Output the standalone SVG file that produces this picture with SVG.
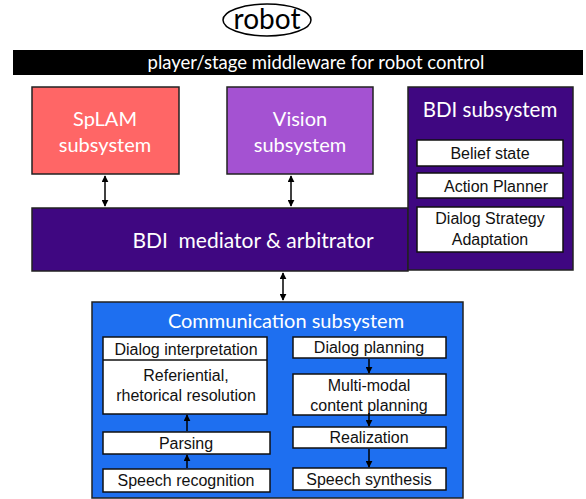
<svg xmlns="http://www.w3.org/2000/svg" width="586" height="499" viewBox="0 0 586 499">
  <style>
    .title { font-family: Lato, "Open Sans", "DejaVu Sans", sans-serif; fill: #ffffff; text-anchor: middle; }
    .box { fill: #ffffff; stroke: #111111; stroke-width: 1.5; }
    .lbl { font-family: "Liberation Sans", Arial, sans-serif; font-size: 16px; fill: #111111; text-anchor: middle; }
    .edge { stroke: #000000; stroke-width: 1.5; fill: none; }
  </style>
  <defs>
    <marker id="head" viewBox="0 0 10 10" refX="9" refY="5" markerWidth="7" markerHeight="7" orient="auto-start-reverse" markerUnits="userSpaceOnUse">
      <path d="M0,0 L10,5 L0,10 z" fill="#000000"/>
    </marker>
  </defs>

  <!-- robot -->
  <g id="robot">
    <ellipse cx="267" cy="20" rx="44" ry="16" fill="#ffffff" stroke="#000000" stroke-width="1.5"/>
    <text x="267" y="29" font-family="Lato, 'Open Sans', sans-serif" font-size="28" fill="#000000" text-anchor="middle">robot</text>
  </g>

  <!-- middleware bar -->
  <g id="middleware">
    <rect x="13" y="50" width="570" height="25" fill="#000000"/>
    <text class="title" x="316" y="69" font-size="18.5">player/stage middleware for robot control</text>
  </g>

  <!-- SpLAM -->
  <g id="splam">
    <rect x="32" y="87" width="147" height="87" fill="#ff6666" stroke="#222222" stroke-width="1.5"/>
    <text class="title" x="105" y="126" font-size="20">SpLAM</text>
    <text class="title" x="105" y="152" font-size="20">subsystem</text>
  </g>

  <!-- Vision -->
  <g id="vision">
    <rect x="227" y="87" width="146" height="87" fill="#a452d2" stroke="#222222" stroke-width="1.5"/>
    <text class="title" x="300" y="126" font-size="20">Vision</text>
    <text class="title" x="300" y="152" font-size="20">subsystem</text>
  </g>

  <!-- BDI mediator -->
  <g id="mediator">
    <rect x="32" y="208" width="376" height="63" fill="#3f0781" stroke="#222222" stroke-width="1.5"/>
    <text class="title" x="253" y="248" font-size="21" xml:space="preserve">BDI  mediator &amp; arbitrator</text>
  </g>

  <!-- BDI subsystem -->
  <g id="bdi">
    <rect x="408" y="87" width="165" height="183" fill="#3f0781" stroke="#222222" stroke-width="1.5"/>
    <text class="title" x="490" y="117" font-size="20.5">BDI subsystem</text>
    <rect class="box" x="417" y="140" width="146" height="26"/>
    <text class="lbl" x="490" y="159">Belief state</text>
    <rect class="box" x="417" y="173" width="146" height="25"/>
    <text class="lbl" x="496" y="192">Action Planner</text>
    <rect class="box" x="417" y="207" width="146" height="45"/>
    <text class="lbl" x="490" y="224">Dialog Strategy</text>
    <text class="lbl" x="490" y="245">Adaptation</text>
  </g>

  <!-- Communication subsystem -->
  <g id="communication">
    <rect x="92" y="302" width="371" height="196" fill="#1e6ff0" stroke="#222222" stroke-width="1.5"/>
    <text class="title" x="286" y="328" font-size="20">Communication subsystem</text>

    <g id="interpretation">
      <rect class="box" x="103" y="337" width="164" height="77"/>
      <line x1="103" y1="360" x2="267" y2="360" stroke="#111111" stroke-width="1.5"/>
      <text class="lbl" x="186" y="355">Dialog interpretation</text>
      <text class="lbl" x="186" y="381">Referiential,</text>
      <text class="lbl" x="186" y="401">rhetorical resolution</text>
    </g>
    <g id="parsing">
      <rect class="box" x="103" y="432" width="167" height="22"/>
      <text class="lbl" x="186" y="449">Parsing</text>
    </g>
    <g id="recognition">
      <rect class="box" x="103" y="469" width="167" height="23"/>
      <text class="lbl" x="186" y="486">Speech recognition</text>
    </g>
    <g id="planning">
      <rect class="box" x="293" y="337" width="153" height="21"/>
      <text class="lbl" x="369" y="353">Dialog planning</text>
    </g>
    <g id="content">
      <rect class="box" x="293" y="374" width="153" height="41"/>
      <text class="lbl" x="369" y="391">Multi-modal</text>
      <text class="lbl" x="369" y="411">content planning</text>
    </g>
    <g id="realization">
      <rect class="box" x="293" y="427" width="153" height="21"/>
      <text class="lbl" x="369" y="443">Realization</text>
    </g>
    <g id="synthesis">
      <rect class="box" x="293" y="468" width="153" height="22"/>
      <text class="lbl" x="369" y="485">Speech synthesis</text>
    </g>
  </g>

  <!-- connectors -->
  <g id="connectors">
    <line class="edge" x1="105" y1="176" x2="105" y2="206" marker-start="url(#head)" marker-end="url(#head)"/>
    <line class="edge" x1="291" y1="176" x2="291" y2="206" marker-start="url(#head)" marker-end="url(#head)"/>
    <line class="edge" x1="283" y1="273" x2="283" y2="300" marker-start="url(#head)" marker-end="url(#head)"/>
    <line class="edge" x1="187" y1="431" x2="187" y2="415" marker-end="url(#head)"/>
    <line class="edge" x1="187" y1="468" x2="187" y2="455" marker-end="url(#head)"/>
    <line class="edge" x1="369" y1="359" x2="369" y2="373" marker-end="url(#head)"/>
    <line class="edge" x1="369" y1="413" x2="369" y2="426" marker-end="url(#head)"/>
    <line class="edge" x1="369" y1="449" x2="369" y2="467" marker-end="url(#head)"/>
  </g>
</svg>
